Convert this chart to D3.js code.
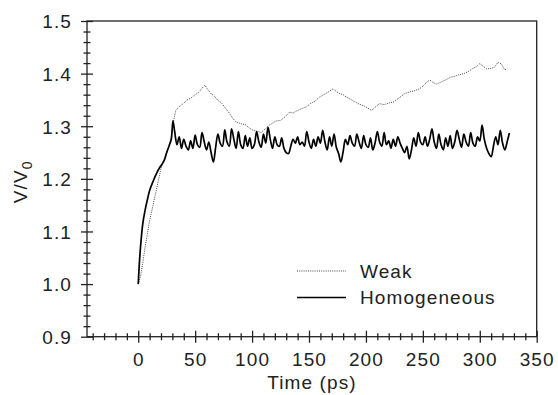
<!DOCTYPE html>
<html>
<head>
<meta charset="utf-8">
<script src="https://cdn.jsdelivr.net/npm/d3@7"></script>
<style>
  body { margin: 0; background: #fff; }
  text { font-family: "Liberation Sans", Arial, Helvetica, sans-serif; }
</style>
</head>
<body>
<svg id="chart"></svg>
<script>
// [time (ps), V/V0]
const weak = [
    [0, 1.0], [2, 1.015], [4, 1.04], [6, 1.07], [8, 1.095], [10, 1.12], [13, 1.15], [16, 1.18],
    [19, 1.21], [21, 1.228], [23, 1.238], [26, 1.256], [29, 1.28], [31, 1.31], [33, 1.33],
    [36, 1.337], [40, 1.344], [43, 1.35], [46, 1.353], [50, 1.36], [53, 1.364], [56, 1.372],
    [58.5, 1.378], [61, 1.37], [64, 1.362], [67, 1.357], [70, 1.349], [73, 1.345], [76, 1.336],
    [80, 1.325], [83, 1.315], [86, 1.308], [90, 1.305], [94, 1.303], [98, 1.296], [101, 1.292],
    [105, 1.29], [108, 1.288], [112, 1.296], [115, 1.302], [118, 1.306], [121, 1.31], [125, 1.311],
    [129, 1.318], [133, 1.327], [136, 1.325], [139, 1.329], [143, 1.333], [148, 1.337], [151, 1.343],
    [155, 1.347], [159, 1.355], [163, 1.36], [167, 1.365], [171, 1.371], [174, 1.366], [177, 1.362],
    [180, 1.36], [183, 1.355], [186, 1.352], [190, 1.347], [194, 1.342], [198, 1.339], [202, 1.334],
    [205, 1.33], [208, 1.336], [212, 1.343], [216, 1.341], [220, 1.344], [224, 1.346], [228, 1.352],
    [231, 1.357], [234, 1.362], [238, 1.365], [242, 1.367], [247, 1.371], [250, 1.376], [253, 1.383],
    [256, 1.388], [259, 1.383], [262, 1.38], [266, 1.384], [270, 1.388], [274, 1.393], [278, 1.395],
    [282, 1.398], [286, 1.4], [290, 1.404], [294, 1.41], [297, 1.413], [300, 1.419], [303, 1.414],
    [306, 1.409], [310, 1.41], [313, 1.412], [316, 1.422], [319, 1.418], [322, 1.407], [324, 1.41]
];

const homogeneous = [
    [0, 1.0], [1, 1.04], [2, 1.07], [4, 1.115], [6, 1.14], [8, 1.16], [10, 1.178], [13, 1.195],
    [16, 1.21], [19, 1.222], [21, 1.228], [23, 1.236], [25, 1.25], [27, 1.262], [29, 1.275],
    [30.5, 1.31], [32, 1.29], [34, 1.265], [36, 1.28], [38, 1.258], [40, 1.275], [42, 1.262],
    [44, 1.255], [46, 1.272], [48, 1.258], [50, 1.283], [52, 1.265], [54, 1.26], [56, 1.288],
    [58, 1.27], [60, 1.255], [62, 1.27], [64, 1.25], [66, 1.232], [68, 1.26], [70, 1.285],
    [72, 1.268], [74, 1.262], [76, 1.293], [78, 1.27], [80, 1.262], [82, 1.295], [84, 1.275],
    [86, 1.258], [88, 1.29], [90, 1.265], [92, 1.258], [94, 1.282], [96, 1.262], [98, 1.278],
    [100, 1.258], [102, 1.265], [104, 1.29], [106, 1.27], [108, 1.26], [110, 1.285], [112, 1.268],
    [114, 1.298], [116, 1.275], [118, 1.258], [120, 1.28], [122, 1.265], [124, 1.262], [126, 1.278],
    [128, 1.258], [130, 1.25], [132, 1.248], [134, 1.262], [136, 1.275], [138, 1.268], [140, 1.28],
    [142, 1.265], [144, 1.27], [146, 1.262], [148, 1.29], [150, 1.27], [152, 1.258], [154, 1.275],
    [156, 1.262], [158, 1.28], [160, 1.268], [162, 1.292], [164, 1.27], [166, 1.255], [168, 1.28],
    [170, 1.262], [172, 1.285], [174, 1.26], [176, 1.248], [178, 1.232], [180, 1.252], [182, 1.275],
    [184, 1.265], [186, 1.282], [188, 1.268], [190, 1.262], [192, 1.285], [194, 1.27], [196, 1.258],
    [198, 1.282], [200, 1.265], [202, 1.26], [204, 1.278], [206, 1.255], [208, 1.268], [210, 1.29],
    [212, 1.27], [214, 1.262], [216, 1.288], [218, 1.265], [220, 1.272], [222, 1.258], [224, 1.275],
    [226, 1.262], [228, 1.28], [230, 1.268], [232, 1.258], [234, 1.25], [236, 1.262], [238, 1.238],
    [240, 1.255], [242, 1.278], [244, 1.262], [246, 1.288], [248, 1.27], [250, 1.265], [252, 1.28],
    [254, 1.262], [256, 1.275], [258, 1.295], [260, 1.27], [262, 1.258], [264, 1.285], [266, 1.265],
    [268, 1.255], [270, 1.278], [272, 1.262], [274, 1.282], [276, 1.258], [278, 1.27], [280, 1.292],
    [282, 1.275], [284, 1.26], [286, 1.285], [288, 1.27], [290, 1.262], [292, 1.288], [294, 1.268],
    [296, 1.262], [298, 1.28], [300, 1.272], [302, 1.302], [304, 1.275], [306, 1.258], [308, 1.248],
    [310, 1.242], [312, 1.262], [314, 1.28], [316, 1.265], [318, 1.292], [320, 1.268], [322, 1.255],
    [324, 1.27], [326, 1.287]
];

const xMajorTicks = [0, 50, 100, 150, 200, 250, 300, 350];
const xMinorTicks = [-40, -30, -20, -10, 10, 20, 30, 40, 60, 70, 80, 90, 110, 120, 130, 140,
    160, 170, 180, 190, 210, 220, 230, 240, 260, 270, 280, 290, 310, 320, 330, 340];
const yMajorTicks = [0.9, 1.0, 1.1, 1.2, 1.3, 1.4, 1.5];
const yMinorTicks = [0.92, 0.94, 0.96, 0.98, 1.02, 1.04, 1.06, 1.08, 1.12, 1.14, 1.16, 1.18,
    1.22, 1.24, 1.26, 1.28, 1.32, 1.34, 1.36, 1.38, 1.42, 1.44, 1.46, 1.48];
const seriesNames = ["Weak", "Homogeneous"];

const W = 558, H = 395;
const margin = { top: 21, right: 21.3, bottom: 58.3, left: 87 };
const width = W - margin.left - margin.right;
const height = H - margin.top - margin.bottom;

const svg = d3.select("#chart")
    .attr("width", W)
    .attr("height", H)
    .append("g")
    .attr("transform", `translate(${margin.left},${margin.top})`);

const xScale = d3.scaleLinear([-45, 350], [0, width]);
const yScale = d3.scaleLinear([0.9, 1.5], [height, 0]);

const fontSize = 19;
const spacing = 1.1;

// frame
svg.append("rect")
    .attr("width", width)
    .attr("height", height)
    .attr("fill", "none")
    .attr("stroke", "#222")
    .attr("stroke-width", 1.3);

// ticks that cross the axis line
function crossTicks(g, attr, size) {
    g.selectAll(".tick line")
        .attr(attr + "1", -size)
        .attr(attr + "2", size)
        .attr("stroke", "#222")
        .attr("stroke-width", 1.3);
    g.select(".domain").remove();
}

svg.append("g")
    .attr("transform", `translate(0,${height})`)
    .call(d3.axisBottom(xScale).tickValues(xMinorTicks).tickFormat(""))
    .call(g => crossTicks(g, "y", 3.5));

const xAxis = svg.append("g")
    .attr("transform", `translate(0,${height})`)
    .call(d3.axisBottom(xScale).tickValues(xMajorTicks).tickFormat(d3.format("d")))
    .call(g => crossTicks(g, "y", 6));
xAxis.selectAll("text")
    .attr("y", 29)
    .attr("dy", 0)
    .attr("font-size", fontSize)
    .attr("letter-spacing", spacing)
    .attr("fill", "#222");

svg.append("g")
    .call(d3.axisLeft(yScale).tickValues(yMinorTicks).tickFormat(""))
    .call(g => crossTicks(g, "x", 3.5));

const yAxis = svg.append("g")
    .call(d3.axisLeft(yScale).tickValues(yMajorTicks).tickFormat(d3.format(".1f")))
    .call(g => crossTicks(g, "x", 6));
yAxis.selectAll("text")
    .attr("x", -15)
    .attr("dy", "0.36em")
    .attr("font-size", fontSize)
    .attr("letter-spacing", spacing)
    .attr("fill", "#222");

// axis titles
svg.append("text")
    .attr("text-anchor", "middle")
    .attr("x", xScale(150) + 3)
    .attr("y", height + 52)
    .attr("font-size", fontSize)
    .attr("letter-spacing", spacing)
    .attr("fill", "#222")
    .text("Time (ps)");

const yTitle = svg.append("text")
    .attr("text-anchor", "middle")
    .attr("transform", `translate(${-60},${height / 2 + 3}) rotate(-90)`)
    .attr("font-size", fontSize)
    .attr("letter-spacing", spacing)
    .attr("fill", "#222");
yTitle.append("tspan").text("V/V");
yTitle.append("tspan").attr("dy", 5).attr("font-size", 14).text("0");

// series
const line = d3.line()
    .x(d => xScale(d[0]))
    .y(d => yScale(d[1]));

svg.append("path")
    .datum(weak)
    .attr("fill", "none")
    .attr("stroke", "#444")
    .attr("stroke-width", 1)
    .attr("stroke-dasharray", "1,1.2")
    .attr("d", line);

svg.append("path")
    .datum(homogeneous)
    .attr("fill", "none")
    .attr("stroke", "#000")
    .attr("stroke-width", 1.7)
    .attr("stroke-linejoin", "round")
    .attr("d", line.curve(d3.curveCatmullRom));

// legend
const legend = svg.append("g")
    .attr("transform", `translate(${297 - margin.left},${271 - margin.top})`);

seriesNames.forEach((name, i) => {
    const row = legend.append("g").attr("transform", `translate(0,${i * 26.5})`);
    row.append("line")
        .attr("x1", 0)
        .attr("x2", 49)
        .attr("stroke", i === 0 ? "#444" : "#000")
        .attr("stroke-width", i === 0 ? 1 : 1.5)
        .attr("stroke-dasharray", i === 0 ? "1,1.2" : null);
    row.append("text")
        .attr("x", 63)
        .attr("dy", "0.36em")
        .attr("font-size", fontSize)
        .attr("letter-spacing", spacing)
        .attr("fill", "#222")
        .text(name);
});
</script>
</body>
</html>
